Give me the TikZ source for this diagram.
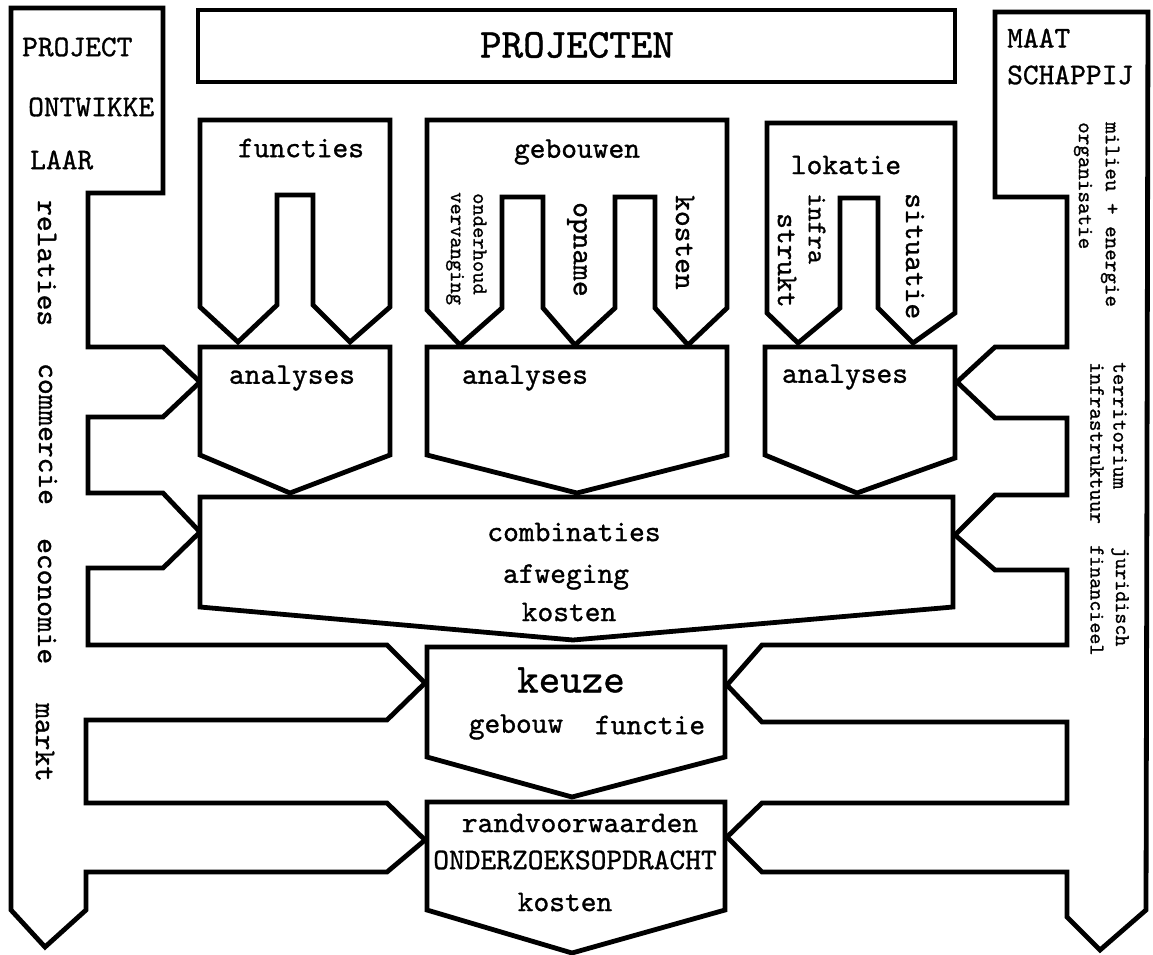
\documentclass[tikz,border=0pt]{standalone}
\usepackage{fontspec}
\newfontfamily\tw[FakeBold=1.0]{lmmono10-regular.otf}
\newcommand\setsz[1]{\fontsize{#1}{#1}\selectfont}
\begin{document}
\begin{tikzpicture}[x=1pt,y=-1pt,
  outline/.style={draw=black, line width=4.8pt, line join=miter, fill=white},
  lbl/.style={inner sep=0pt, font={\tw\setsz{#1}}},
  lbl/.default=30,
  vlbl/.style={lbl=#1, rotate=-90, anchor=west},
  vlbl/.default=30]
\useasboundingbox (0,0) rectangle (1153,954);
\fill[white] (0,0) rectangle (1153,954);

% side bands: developer (left) and society (right)
\draw[outline] (11,8) -- (163,8) -- (163,193) -- (88,193) -- (88,347) -- (163,347)
  -- (200,382) -- (163,417) -- (88,417) -- (88,493) -- (163,493) -- (200,532)
  -- (163,568) -- (88,568) -- (88,645) -- (387,645) -- (425,683) -- (387,720)
  -- (86,720) -- (86,803) -- (387,803) -- (425,840) -- (387,872) -- (86,872)
  -- (86,910) -- (45,947) -- (11,910) -- cycle;
\draw[outline] (995,12) -- (1148,12) -- (1146,910) -- (1100,950) -- (1067,917)
  -- (1067,872) -- (762,872) -- (727,837) -- (762,803) -- (1067,803) -- (1067,722)
  -- (762,722) -- (727,685) -- (762,645) -- (1067,645) -- (1067,570) -- (995,570)
  -- (955,535) -- (995,495) -- (1067,495) -- (1067,418) -- (995,418) -- (957,382)
  -- (995,347) -- (1067,347) -- (1067,197) -- (995,197) -- cycle;

% top bar
\draw[outline] (198,10) rectangle (955,82);

% input blocks
\draw[outline] (200,120) -- (390,120) -- (390,307) -- (350,342) -- (313,305)
  -- (313,195) -- (277,195) -- (277,305) -- (238,342) -- (200,307) -- cycle;
\draw[outline] (427,120) -- (727,120) -- (727,308) -- (688,345) -- (655,308)
  -- (655,197) -- (615,197) -- (615,308) -- (575,345) -- (543,308) -- (543,197)
  -- (502,197) -- (502,308) -- (460,345) -- (427,310) -- cycle;
\draw[outline] (767,123) -- (955,123) -- (955,313) -- (913,343) -- (878,308)
  -- (878,198) -- (840,198) -- (840,308) -- (798,343) -- (767,313) -- cycle;

% analysis blocks
\draw[outline] (200,347) -- (390,347) -- (390,455) -- (290,493) -- (200,455) -- cycle;
\draw[outline] (427,347) -- (727,347) -- (727,455) -- (577,493) -- (427,455) -- cycle;
\draw[outline] (765,347) -- (955,347) -- (955,458) -- (857,493) -- (765,455) -- cycle;

% combination, choice and brief
\draw[outline] (200,497) -- (953,497) -- (953,607) -- (573,640) -- (200,607) -- cycle;
\draw[outline] (427,647) -- (725,647) -- (725,757) -- (572,797) -- (427,757) -- cycle;
\draw[outline] (427,802) -- (725,802) -- (725,910) -- (572,953) -- (427,910) -- cycle;

% labels
\node[lbl=41] (projecten) at (577,45) {PROJECTEN};
\node[lbl, anchor=west] (project) at (22,47) {PROJECT};
\node[lbl, anchor=west] (ontwikke) at (28,107) {ONTWIKKE};
\node[lbl, anchor=west] (laar) at (30,160) {LAAR};
\node[lbl, anchor=west] (maat) at (1007,38) {MAAT};
\node[lbl, anchor=west] (schappij) at (1007,75) {SCHAPPIJ};

\node[vlbl] (relaties) at (47,200) {relaties};
\node[vlbl] (commercie) at (48,363) {commercie};
\node[vlbl] (economie) at (47,538) {economie};
\node[vlbl] (markt) at (45,703) {markt};

\node[vlbl=22] (milieu) at (1110,122) {milieu + energie};
\node[vlbl=22] (organisatie) at (1083,122) {organisatie};
\node[vlbl=22] (territorium) at (1120,362) {territorium};
\node[vlbl=22] (infrastruktuur) at (1097,362) {infrastruktuur};
\node[vlbl=21] (juridisch) at (1120,547) {juridisch};
\node[vlbl=21] (financieel) at (1097,545) {financieel};

\node[lbl] (functies) at (301,148) {functies};
\node[lbl] (gebouwen) at (577,152) {gebouwen};
\node[lbl] (lokatie) at (846,165) {lokatie};

\node[vlbl=21.5] (onderhoud) at (480,193) {onderhoud};
\node[vlbl=21.5] (vervanging) at (455,192) {vervanging};
\node[vlbl] (opname) at (577,202) {opname};
\node[vlbl] (kostengeb) at (685,195) {kosten};
\node[vlbl=27] (infra) at (817,193) {infra};
\node[vlbl] (strukt) at (787,213) {strukt};
\node[vlbl] (situatie) at (915,193) {situatie};

\node[lbl] (analyses1) at (292,378) {analyses};
\node[lbl] (analyses2) at (525,378) {analyses};
\node[lbl] (analyses3) at (845,377) {analyses};

\node[lbl] (combinaties) at (574,532) {combinaties};
\node[lbl] (afweging) at (566,577) {afweging};
\node[lbl] (kostencomb) at (569,612) {kosten};

\node[lbl=41] (keuze) at (571,680) {keuze};
\node[lbl] (gebouw) at (516,727) {gebouw};
\node[lbl] (functie) at (650,725) {functie};

\node[lbl] (randvoorwaarden) at (580,823) {randvoorwaarden};
\node[lbl] (opdracht) at (575,860) {ONDERZOEKSOPDRACHT};
\node[lbl] (kostenopdr) at (565,902) {kosten};
\end{tikzpicture}
\end{document}
